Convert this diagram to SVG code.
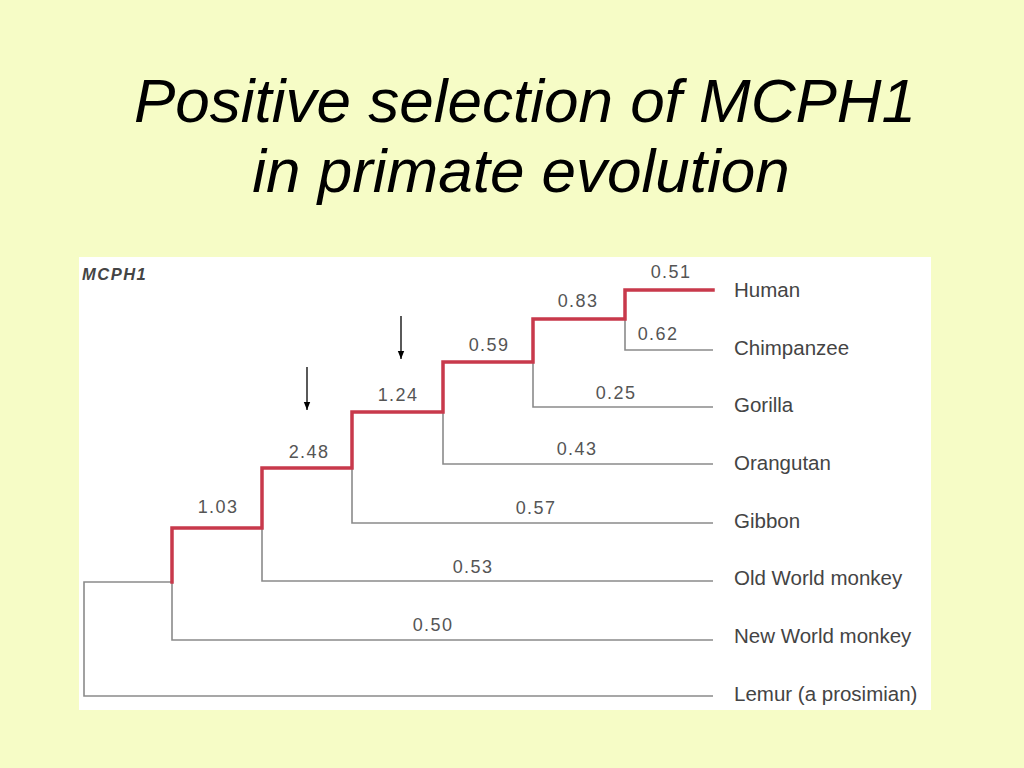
<svg xmlns="http://www.w3.org/2000/svg" width="1024" height="768" viewBox="0 0 1024 768">
<defs>
<style>
.title{font-family:"Liberation Sans",Arial,sans-serif;font-style:italic;font-size:62px;fill:#000;text-anchor:middle}
.num{font-family:"Liberation Sans",Arial,sans-serif;font-size:18px;letter-spacing:1.4px;fill:#555;text-anchor:middle}
.leaf{font-family:"Liberation Sans",Arial,sans-serif;font-size:20.5px;fill:#444}
.red{fill:none;stroke:#c8394b;stroke-width:3.5;stroke-linejoin:miter;stroke-linecap:square}
.grey{fill:none;stroke:#8a8a8a;stroke-width:1.6}
.arrow{stroke:#000;stroke-width:1.3}
</style>
<marker id="ah" viewBox="0 0 10 10" refX="10" refY="5" markerWidth="8" markerHeight="8" markerUnits="userSpaceOnUse" orient="auto">
<path d="M0,1 L10,5 L0,9 z" fill="#000"/>
</marker>
</defs>
<rect width="1024" height="768" fill="#f6fcc6"/>
<text class="title" x="525" y="122">Positive selection of MCPH1</text>
<text class="title" x="521" y="192">in primate evolution</text>
<rect x="79" y="257" width="852" height="453" fill="#ffffff"/>
<text x="82" y="280" font-family="Liberation Sans,Arial,sans-serif" font-size="16.5" letter-spacing="1.5" font-weight="bold" font-style="italic" fill="#444">MCPH1</text>
<g id="connectors">
<path class="grey" d="M713,696 H84 V582 H172"/>
<path class="grey" d="M172,582 V640 H713"/>
<path class="grey" d="M262,528 V581 H713"/>
<path class="grey" d="M352,468 V523 H713"/>
<path class="grey" d="M443,412 V464 H713"/>
<path class="grey" d="M533,362 V407 H713"/>
<path class="grey" d="M625,319 V350 H713"/>
<path class="red" d="M172,582 V528 H262 V468 H352 V412 H443 V362 H533 V319 H625 V290 H713"/>
<line class="arrow" x1="307" y1="367" x2="307" y2="410" marker-end="url(#ah)"/>
<line class="arrow" x1="401" y1="316" x2="401" y2="359" marker-end="url(#ah)"/>
</g>
<g id="branch-labels">
<text class="num" x="671" y="278">0.51</text>
<text class="num" x="578" y="307">0.83</text>
<text class="num" x="658" y="340">0.62</text>
<text class="num" x="489" y="351">0.59</text>
<text class="num" x="616" y="399">0.25</text>
<text class="num" x="398" y="401">1.24</text>
<text class="num" x="577" y="455">0.43</text>
<text class="num" x="309" y="458">2.48</text>
<text class="num" x="536" y="514">0.57</text>
<text class="num" x="218" y="513">1.03</text>
<text class="num" x="473" y="573">0.53</text>
<text class="num" x="433" y="631">0.50</text>
</g>
<g id="node-human"><text class="leaf" x="734" y="297">Human</text></g>
<g id="node-chimpanzee"><text class="leaf" x="734" y="355">Chimpanzee</text></g>
<g id="node-gorilla"><text class="leaf" x="734" y="412">Gorilla</text></g>
<g id="node-orangutan"><text class="leaf" x="734" y="470">Orangutan</text></g>
<g id="node-gibbon"><text class="leaf" x="734" y="528">Gibbon</text></g>
<g id="node-owm"><text class="leaf" x="734" y="585">Old World monkey</text></g>
<g id="node-nwm"><text class="leaf" x="734" y="643">New World monkey</text></g>
<g id="node-lemur"><text class="leaf" x="734" y="701">Lemur (a prosimian)</text></g>
</svg>
